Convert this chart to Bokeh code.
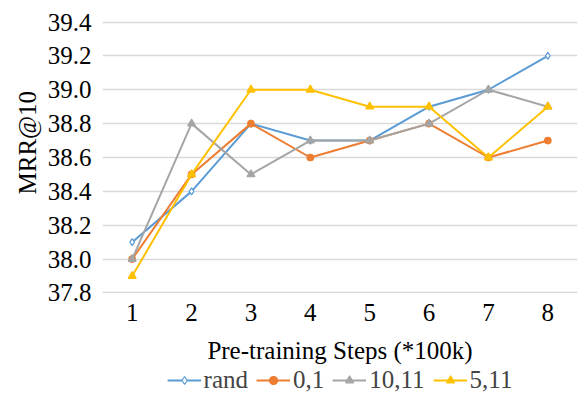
from bokeh.plotting import figure
from bokeh.layouts import column
from bokeh.models import Range1d, FixedTicker, NumeralTickFormatter, Legend, LegendItem, Title
from bokeh.embed import file_html
from bokeh.resources import INLINE

steps = [1, 2, 3, 4, 5, 6, 7, 8]
rand = [38.1, 38.4, 38.8, 38.7, 38.7, 38.9, 39.0, 39.2]
s01 = [38.0, 38.5, 38.8, 38.6, 38.7, 38.8, 38.6, 38.7]
s1011 = [38.0, 38.8, 38.5, 38.7, 38.7, 38.8, 39.0, 38.9]
s511 = [37.9, 38.5, 39.0, 39.0, 38.9, 38.9, 38.6, 38.9]
y_ticks = [37.8, 38.0, 38.2, 38.4, 38.6, 38.8, 39.0, 39.2, 39.4]

FONT = "Liberation Serif"
FS = "25px"

p = figure(frame_width=475, frame_height=272, output_backend="svg", toolbar_location=None,
           x_range=Range1d(0.5, 8.5), y_range=Range1d(37.797, 39.403),
           min_border_left=102, min_border_top=21, min_border_right=2, min_border_bottom=73)
p.outline_line_color = None
p.background_fill_color = "white"

series = [
    ("rand", rand, "#5B9BD5", "diamond", 7, "white"),
    ("0,1", s01, "#ED7D31", "circle", 6.5, "#ED7D31"),
    ("10,11", s1011, "#A5A5A5", "triangle", 8, "#A5A5A5"),
    ("5,11", s511, "#FFC000", "triangle", 8, "#FFC000"),
]

# legend strip below the chart (its renderers lie outside its visible range)
lg = figure(width=579, height=28, output_backend="svg", toolbar_location=None,
            x_axis_type=None, y_axis_type=None,
            x_range=Range1d(100, 101), y_range=Range1d(100, 101),
            min_border=0, min_border_left=100)
lg.outline_line_color = None
lg.xgrid.grid_line_color = None
lg.ygrid.grid_line_color = None

items = []
for name, ys, col, mk, sz, fc in series:
    p.line(steps, ys, line_color=col, line_width=2)
    p.scatter(steps, ys, marker=mk, size=sz, line_color=col, fill_color=fc, line_width=1.2)
    l2 = lg.line(steps, ys, line_color=col, line_width=2)
    s2 = lg.scatter(steps, ys, marker=mk, size=sz, line_color=col, fill_color=fc, line_width=1.2)
    items.append(LegendItem(label=name, renderers=[l2, s2]))

p.xaxis.ticker = FixedTicker(ticks=steps)
p.yaxis.ticker = FixedTicker(ticks=y_ticks)
p.yaxis.formatter = NumeralTickFormatter(format="0.0")
for ax in (p.xaxis, p.yaxis):
    ax.axis_line_color = None
    ax.major_tick_line_color = None
    ax.minor_tick_line_color = None
    ax.major_tick_out = 0
    ax.major_label_text_font = FONT
    ax.major_label_text_font_size = FS
    ax.major_label_text_color = "#000000"
    ax.axis_label_text_font = FONT
    ax.axis_label_text_font_size = FS
    ax.axis_label_text_font_style = "normal"
    ax.axis_label_text_color = "#000000"
p.xaxis.major_label_standoff = 10
p.yaxis.major_label_standoff = 11
p.xaxis.axis_label = "Pre-training Steps (*100k)"
p.xaxis.axis_label_standoff = 13
p.xgrid.grid_line_color = None
p.ygrid.grid_line_color = "#d9d9d9"
p.ygrid.grid_line_width = 1.5

ytitle = Title(text="MRR@10", align="left", offset=99, standoff=8,
               text_font=FONT, text_font_size=FS, text_font_style="normal",
               text_color="#000000")
p.add_layout(ytitle, "left")

legend = Legend(items=items, orientation="horizontal", location="center",
                label_text_font=FONT, label_text_font_size=FS,
                glyph_width=34, glyph_height=20, label_standoff=3, spacing=8,
                padding=0, margin=0, border_line_color=None, background_fill_alpha=0)
lg.add_layout(legend, "center")

layout = column(p, lg, spacing=0)
open("out.html", "w").write(file_html(layout, INLINE))
